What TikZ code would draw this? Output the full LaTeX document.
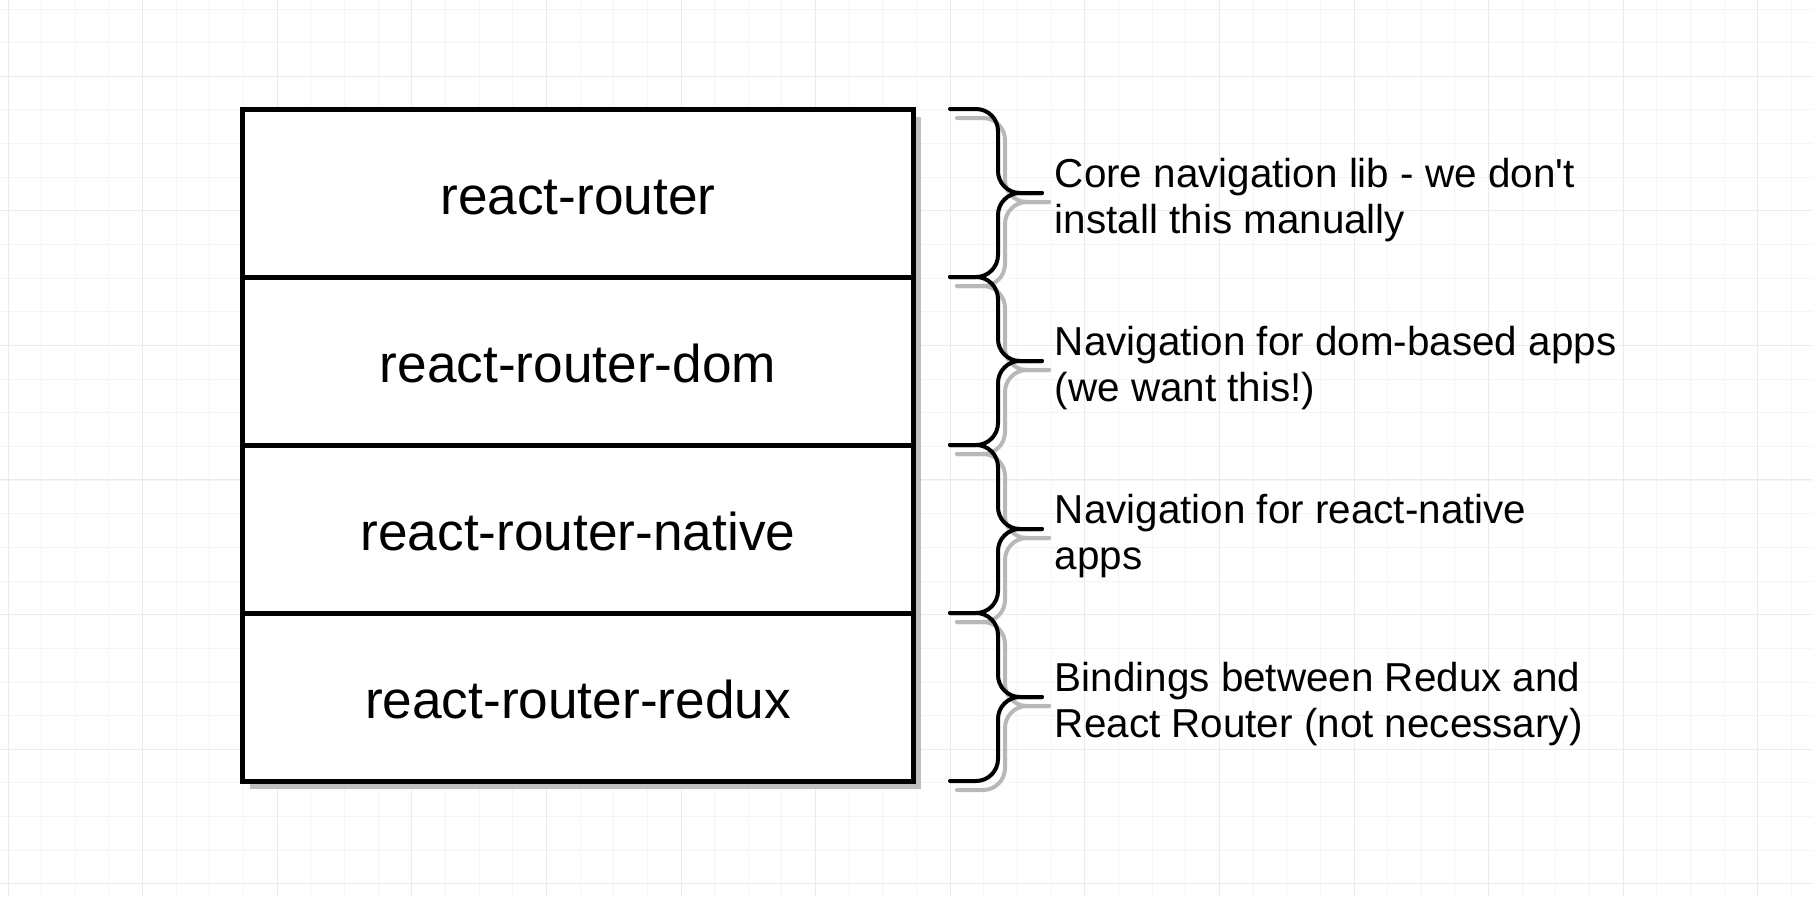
\documentclass[tikz,border=0pt]{standalone}
\usepackage{fontspec}
\setmainfont{Liberation Sans}[Ligatures=TeXOff]
\usetikzlibrary{positioning}

\tikzset{
  gridline/.style={black!4,line width=0.5pt},
  gridmajor/.style={black!8,line width=0.5pt},
  layer/.style={draw,line width=2.5pt,fill=white,outer sep=0pt,inner sep=0pt,
    minimum width=335.5pt,minimum height=84pt,text height=21.8pt,text depth=0pt,
    font=\fontsize{26.6}{30}\selectfont},
  note/.style={align=left,inner sep=0pt,yshift=-3.5pt,font=\fontsize{20.2}{23}\selectfont},
  curly/.style={line width=2pt,rounded corners=11pt,line cap=round},
  bshadow/.style={curly,black!28,transform canvas={xshift=3.5pt,yshift=-4.5pt}},
  bline/.style={curly,black},
}

\begin{document}
\begin{tikzpicture}[x=0.5pt,y=-0.5pt]
        \useasboundingbox[fill=white](0,0)rectangle(1812,896);
        % background grid
        \foreach \k in {0,...,53}{\draw[gridline]({8+33.65*\k},0)--({8+33.65*\k},896);}
        \foreach \k in {0,...,26}{\draw[gridline](0,{9+33.65*\k})--(1812,{9+33.65*\k});}
        \foreach \k in {0,...,13}{\draw[gridmajor]({8+134.6*\k},0)--({8+134.6*\k},896);}
        \foreach \k in {0,...,6}{\draw[gridmajor](0,{76+134.6*\k})--(1812,{76+134.6*\k});}

        % stack of packages
        \fill[black!25](250,117)rectangle(921,789);
        \node[layer](r1)at(578,193){react-router};
        \node[layer,below=0pt of r1](r2){react-router-dom};
        \node[layer,below=0pt of r2](r3){react-router-native};
        \node[layer,below=0pt of r3](r4){react-router-redux};

        % braces
        \foreach \look in {bshadow,bline}{
            \foreach \i in {1,...,4}{
                \draw[\look]([xshift=18.25pt]r\i.north east)--([xshift=42.25pt]r\i.north east)--([xshift=42.25pt]r\i.east)--([xshift=64.25pt]r\i.east);
                \draw[\look]([xshift=18.25pt]r\i.south east)--([xshift=42.25pt]r\i.south east)--([xshift=42.25pt]r\i.east)--([xshift=64.25pt]r\i.east);
            }
        }

        \node[note,right=70.5pt of r1](n1){Core navigation lib - we don't\\install this manually};
        \node[note,right=70.5pt of r2](n2){Navigation for dom-based apps\\(we want this!)};
        \node[note,right=70.5pt of r3](n3){Navigation for react-native\\apps};
        \node[note,right=70.5pt of r4](n4){Bindings between Redux and\\React Router (not necessary)};
    \end{tikzpicture}
\end{document}
